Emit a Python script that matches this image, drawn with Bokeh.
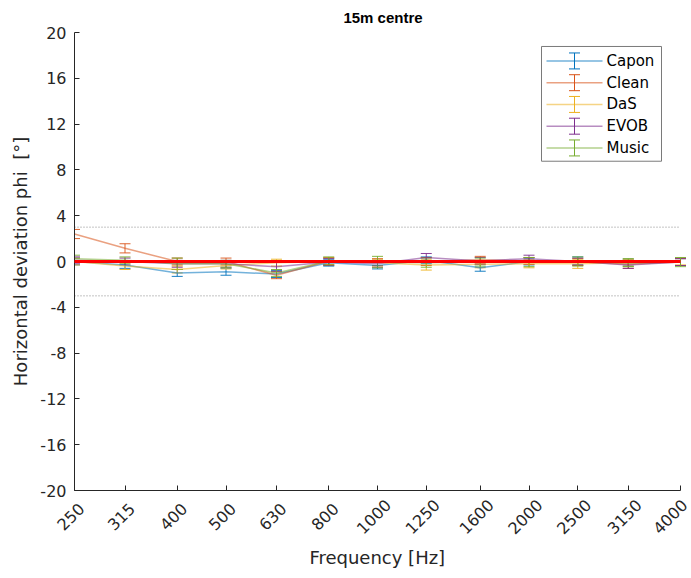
import math
from bokeh.plotting import figure
from bokeh.models import (Range1d, FixedTicker, PrintfTickFormatter, Whisker, TeeHead,
                          ColumnDataSource, LogAxis, LogScale)
from bokeh.core.properties import value
from bokeh.embed import file_html
from bokeh.resources import INLINE

# ---------------- data ----------------
freqs = [250, 315, 400, 500, 630, 800, 1000, 1250, 1600, 2000, 2500, 3150, 4000]
freq_labels = ["250", "315", "400", "500", "630", "800", "1000", "1250", "1600", "2000", "2500", "3150", "4000"]

capon = [0.0, -0.3, -1.0, -0.9, -1.1, -0.1, -0.35, 0.1, -0.55, 0.0, 0.05, -0.1, -0.05]
capon_err = [0.3, 0.3, 0.3, 0.3, 0.3, 0.3, 0.3, 0.3, 0.3, 0.3, 0.35, 0.3, 0.3]

clean = [2.4, 1.15, 0.0, 0.0, -1.2, 0.05, -0.05, 0.0, 0.15, 0.05, -0.05, -0.25, -0.05]
clean_err = [0.4, 0.4, 0.3, 0.3, 0.3, 0.3, 0.3, 0.35, 0.3, 0.3, 0.3, 0.35, 0.3]

das = [0.0, -0.4, -0.7, -0.35, -0.1, 0.0, -0.1, -0.3, -0.25, -0.2, -0.2, -0.1, 0.0]
das_err = [0.3, 0.3, 0.3, 0.3, 0.3, 0.3, 0.3, 0.45, 0.3, 0.35, 0.4, 0.3, 0.3]

evob = [0.1, 0.0, -0.2, -0.2, -0.45, -0.05, -0.2, 0.35, 0.05, 0.25, 0.0, -0.3, -0.05]
evob_err = [0.3, 0.3, 0.3, 0.3, 0.4, 0.3, 0.3, 0.35, 0.3, 0.3, 0.3, 0.3, 0.3]

music = [0.25, 0.1, -0.2, -0.2, -1.0, 0.05, -0.05, -0.1, -0.05, -0.05, 0.0, -0.1, -0.05]
music_err = [0.3, 0.3, 0.5, 0.3, 0.3, 0.35, 0.5, 0.4, 0.35, 0.4, 0.4, 0.35, 0.4]

series_names = ["Capon", "Clean", "DaS", "EVOB", "Music"]
series_vals = [capon, clean, das, evob, music]
series_errs = [capon_err, clean_err, das_err, evob_err, music_err]
series_colors = ["#0072BD", "#D95319", "#EDB120", "#7E2F8E", "#77AC30"]

target = 0.0
tolerance = [3, -3]
y_ticks = [-20, -16, -12, -8, -4, 0, 4, 8, 12, 16, 20]

# ---------------- layout ----------------
W, H = 691, 578
FL, FR, FT, FB = 74, 680, 31, 490        # where 250 Hz / 4000 Hz / +20 / -20 sit
XMIN, XMAX, YMIN, YMAX = 250, 4000, -20, 20
FONT = "DejaVu Sans"
TXT = "#262626"
NBSP = "\u00a0"

ppo = (FR - FL) / math.log2(XMAX / XMIN)          # pixels per octave
XR = XMAX * 2 ** ((W - FR) / ppo)                 # frame runs to the canvas edge

p = figure(width=W, height=H, x_axis_type="log",
           x_range=Range1d(XMIN, XR), y_range=Range1d(YMIN, YMAX),
           output_backend="svg", toolbar_location=None,
           min_border_left=FL, min_border_right=0,
           min_border_top=FT, min_border_bottom=H - FB,
           title="15m centre")
p.outline_line_color = None
p.xgrid.visible = False
p.ygrid.visible = False
p.background_fill_color = "white"
p.border_fill_color = "white"

p.title.text_font = "Liberation Sans"
p.title.text_font_size = "15px"
p.title.text_font_style = "bold"
p.title.text_color = "#000000"
p.title.align = "center"
p.title.standoff = 13
p.title.offset = -5

xax = p.xaxis[0]
yax = p.yaxis[0]
for ax in (xax, yax):
    ax.axis_line_color = TXT
    ax.major_tick_line_color = TXT
    ax.minor_tick_line_color = None
    ax.major_tick_in = 5
    ax.major_tick_out = 0
    ax.major_label_text_font = FONT
    ax.major_label_text_font_size = "16px"
    ax.major_label_text_color = TXT
    ax.axis_label_text_font = FONT
    ax.axis_label_text_font_size = "18px"
    ax.axis_label_text_font_style = "normal"
    ax.axis_label_text_color = TXT

# main x axis: line and inward ticks only, spanning 250..4000
xax.ticker = FixedTicker(ticks=freqs, minor_ticks=[])
xax.bounds = (XMIN, XMAX)
xax.major_label_text_font_size = "1px"
xax.major_label_text_color = None
xax.major_label_standoff = 0

# label axis: same log scale, shifted so rotated labels sit centred under their ticks (MATLAB style)
shift_px = 10.9
k = 2 ** (-shift_px / ppo)
p.extra_x_ranges = {"lab": Range1d(XMIN * k, XR * k)}
p.extra_x_scales = {"lab": LogScale()}
overrides = {}
for f, lab in zip(freqs, freq_labels):
    txt = lab + (NBSP if len(lab) == 3 else "")
    overrides[f] = txt
    overrides[str(f)] = txt
lab_axis = LogAxis(x_range_name="lab", ticker=FixedTicker(ticks=freqs, minor_ticks=[]),
                   major_label_overrides=overrides,
                   axis_line_color=None, major_tick_line_color=None, minor_tick_line_color=None,
                   major_tick_in=0, major_tick_out=0,
                   major_label_orientation=math.pi / 4, major_label_standoff=12,
                   major_label_text_font=FONT, major_label_text_font_size="16px",
                   major_label_text_color=TXT,
                   axis_label="Frequency [Hz]" + NBSP * 2, axis_label_standoff=-1,
                   axis_label_text_font=FONT, axis_label_text_font_size="18px",
                   axis_label_text_font_style="normal", axis_label_text_color=TXT)
p.add_layout(lab_axis, "below")

yax.ticker = FixedTicker(ticks=y_ticks, minor_ticks=[])
yax.formatter = PrintfTickFormatter(format="%d")
yax.axis_label = "Horizontal deviation phi" + NBSP + " [°]"
yax.major_label_standoff = 8
yax.axis_label_standoff = 6

def fx(px):
    return XMIN * 2 ** ((px - FL) / ppo)

def fy(py):
    return YMAX - (py - FT) * (YMAX - YMIN) / (FB - FT)

# tolerance lines
for t in tolerance:
    p.line([freqs[0], freqs[-1]], [t, t], line_color="#888888", line_width=1, line_dash="1 2")

# series
for name, vals, errs, col in zip(series_names, series_vals, series_errs, series_colors):
    src = ColumnDataSource(dict(x=freqs, y=vals,
                                lo=[v - e for v, e in zip(vals, errs)],
                                hi=[v + e for v, e in zip(vals, errs)]))
    p.line("x", "y", source=src, line_color=col, line_width=1.5, line_alpha=0.55)
    w = Whisker(base="x", lower="lo", upper="hi", source=src,
                line_color=col, line_width=1, line_alpha=0.9,
                lower_head=TeeHead(size=11, line_color=col, line_width=1, line_alpha=0.9),
                upper_head=TeeHead(size=11, line_color=col, line_width=1, line_alpha=0.9))
    p.add_layout(w)

# target line
p.line([freqs[0], freqs[-1]], [target, target], line_color="#FF0000", line_width=3, level="overlay")

# ---------------- legend (drawn manually, pixel -> data) ----------------
p.quad(left=[fx(541)], right=[fx(661)], top=[fy(45)], bottom=[fy(160)],
       fill_color="white", line_color="#7a7a7a", line_width=1, level="overlay")
for i, (name, col) in enumerate(zip(series_names, series_colors)):
    cy = 59.5 + 21.8 * i
    p.segment([fx(546)], [fy(cy)], [fx(602)], [fy(cy)], line_color=col, line_width=1.5, line_alpha=0.55, level="overlay")
    p.segment([fx(574)], [fy(cy - 8)], [fx(574)], [fy(cy + 8)], line_color=col, line_width=1, level="overlay")
    p.segment([fx(568.5), fx(568.5)], [fy(cy - 8), fy(cy + 8)], [fx(579.5), fx(579.5)], [fy(cy - 8), fy(cy + 8)],
              line_color=col, line_width=1, level="overlay")
    p.text([fx(606)], [fy(cy)], text=[name], text_font=value(FONT), text_font_size="15px",
           text_color="#000000", text_baseline="middle", text_align="left", level="overlay")

open("out.html", "w").write(file_html(p, INLINE))
